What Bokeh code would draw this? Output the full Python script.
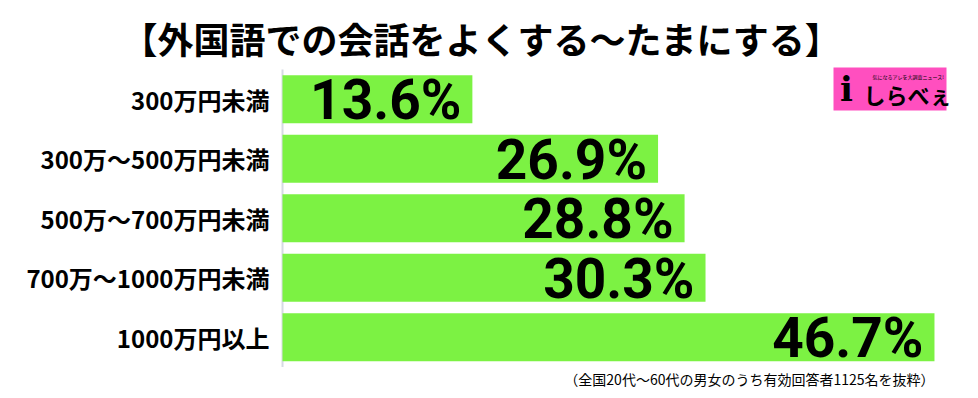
from bokeh.plotting import figure
from bokeh.models import Range1d, Label, BoxAnnotation, ColumnDataSource
from bokeh.core.properties import value
from bokeh.embed import file_html
from bokeh.resources import INLINE

title_text = "【外国語での会話をよくする～たまにする】"
categories = ["300万円未満", "300万～500万円未満", "500万～700万円未満", "700万～1000万円未満", "1000万円以上"]
values = [13.6, 26.9, 28.8, 30.3, 46.7]
value_labels = ["13.6%", "26.9%", "28.8%", "30.3%", "46.7%"]
footnote = "（全国20代～60代の男女のうち有効回答者1125名を抜粋）"

JP = "Noto Sans CJK JP"
n = len(categories)
pos = list(range(n))

src = ColumnDataSource(dict(cat=categories, val=values, lab=value_labels, y=pos,
                            zero=[0] * n))

W, H = 970, 390
p = figure(width=W, height=H, output_backend="svg", toolbar_location=None,
           x_range=Range1d(-20.2, 49.28), y_range=Range1d(4.895, -1.66),
           min_border=0, min_border_left=0, min_border_right=0,
           min_border_top=0, min_border_bottom=0)
p.outline_line_color = None
p.background_fill_color = "white"
p.border_fill_color = "white"
p.grid.visible = False
p.axis.visible = False

# axis line
p.segment(x0=[0], x1=[0], y0=[pos[0] - 0.5], y1=[pos[-1] + 0.5],
          line_color="#d6dae3", line_width=2)

p.hbar(y="y", right="val", left=0, height=0.81, source=src,
       fill_color="#7cf243", line_color=None)
p.text(x="val", y="y", text="lab", source=src, text_align="right", text_baseline="middle",
       x_offset=-11, y_offset=1, text_font=value("Roboto"), text_font_style="bold",
       text_font_size="55px", text_color="black")
p.text(x="zero", y="y", text="cat", source=src, text_align="right", text_baseline="middle",
       x_offset=-13, y_offset=0, text_font=value(JP), text_font_style="bold",
       text_font_size="24px", text_color="black")

# title
p.add_layout(Label(x=481, y=H - 37, x_units="screen", y_units="screen", text=title_text,
                   text_align="center", text_baseline="middle", text_font=JP,
                   text_font_style="bold", text_font_size="36px", text_color="black"))
# footnote
p.add_layout(Label(x=934, y=H - 378, x_units="screen", y_units="screen", text=footnote,
                   text_align="right", text_baseline="middle", text_font=JP,
                   text_font_size="14px", text_color="black"))
# logo
p.add_layout(BoxAnnotation(left=833, right=946, top=H - 67, bottom=H - 110,
                           left_units="screen", right_units="screen",
                           top_units="screen", bottom_units="screen",
                           fill_color="#ff4fbf", fill_alpha=1, line_color=None, level="overlay"))
p.add_layout(Label(x=846, y=H - 88, x_units="screen", y_units="screen", text="i",
                   text_align="center", text_baseline="middle", text_font="DejaVu Serif",
                   text_font_style="bold", text_font_size="34px", text_color="black", level="overlay"))
p.add_layout(Label(x=863, y=H - 93, x_units="screen", y_units="screen", text="しらべぇ",
                   text_align="left", text_baseline="middle", text_font=JP,
                   text_font_size="22px", text_font_style="bold", text_color="black", level="overlay"))
p.add_layout(Label(x=872, y=H - 76, x_units="screen", y_units="screen", text="気になるアレを大調査ニュース!",
                   text_align="left", text_baseline="middle", text_font=JP,
                   text_font_size="5px", text_color="black", level="overlay"))

open("out.html", "w").write(file_html(p, INLINE))
